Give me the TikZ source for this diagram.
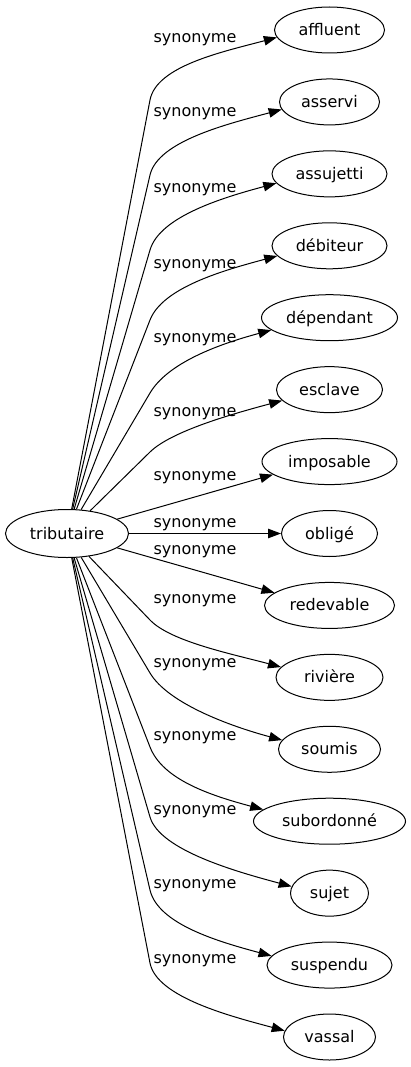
\documentclass[tikz,border=0pt]{standalone}
\usepackage{fontspec}
\setmainfont{DejaVu Sans}
\usetikzlibrary{shapes.geometric,arrows.meta,calc}
\begin{document}
\begin{tikzpicture}[x=1pt,y=-1pt,
  word/.style={ellipse,draw,line width=1pt,inner sep=0pt,minimum height=46pt,
    font=\fontsize{16}{19}\selectfont,text height=12pt,text depth=1pt},
  lab/.style={anchor=base,inner sep=0pt,font=\fontsize{16}{19}\selectfont},
  conn/.style={draw,line width=1pt,-{Triangle[length=13pt,width=9.5pt]}}]
\useasboundingbox (0,0) rectangle (411,1067);
% nodes
\node[word,minimum width=123pt,minimum height=48pt] (t) at (67,533.5) {tributaire};
\node[word,minimum width=110pt] (affluent)   at (329.5,30)     {affluent};
\node[word,minimum width=100pt] (asservi)    at (329.5,101.93) {asservi};
\node[word,minimum width=115pt] (assujetti)  at (329.5,173.86) {assujetti};
\node[word,minimum width=115pt] (debiteur)   at (329.5,245.79) {débiteur};
\node[word,minimum width=136pt] (dependant)  at (329.5,317.71) {dépendant};
\node[word,minimum width=106pt] (esclave)    at (329.5,389.64) {esclave};
\node[word,minimum width=135pt] (imposable)  at (329.5,461.57) {imposable};
\node[word,minimum width=96pt]  (oblige)     at (329.5,533.5)  {obligé};
\node[word,minimum width=130pt] (redevable)  at (329.5,605.43) {redevable};
\node[word,minimum width=107pt] (riviere)    at (329.5,677.36) {rivière};
\node[word,minimum width=102pt] (soumis)     at (329.5,749.29) {soumis};
\node[word,minimum width=152pt] (subordonne) at (329.5,821.21) {subordonné};
\node[word,minimum width=78pt]  (sujet)      at (329.5,893.14) {sujet};
\node[word,minimum width=125pt] (suspendu)   at (329.5,965.07) {suspendu};
\node[word,minimum width=92pt]  (vassal)     at (329.5,1037)   {vassal};
% labels
\node[lab] (l1)  at (195,42.5)  {synonyme};
\node[lab] (l2)  at (195,117)   {synonyme};
\node[lab] (l3)  at (195,192.5) {synonyme};
\node[lab] (l4)  at (195,268)   {synonyme};
\node[lab] (l5)  at (195,342.5) {synonyme};
\node[lab] (l6)  at (195,416)   {synonyme};
\node[lab] (l7)  at (195,480)   {synonyme};
\node[lab] (l8)  at (195,527.5) {synonyme};
\node[lab] (l9)  at (195,554.5) {synonyme};
\node[lab] (l10) at (195,603)   {synonyme};
\node[lab] (l11) at (195,667)   {synonyme};
\node[lab] (l12) at (195,740)   {synonyme};
\node[lab] (l13) at (195,814)   {synonyme};
\node[lab] (l14) at (195,888)   {synonyme};
\node[lab] (l15) at (195,963)   {synonyme};
% knee points
\coordinate (k1)  at (150,100);
\coordinate (k2)  at (150,175);
\coordinate (k3)  at (150,250);
\coordinate (k4)  at (150,320);
\coordinate (k5)  at (150,393);
\coordinate (k6)  at (150,452);
\coordinate (k10) at (150,620);
\coordinate (k11) at (150,673);
\coordinate (k12) at (150,747);
\coordinate (k13) at (150,817);
\coordinate (k14) at (150,890);
\coordinate (k15) at (150,963);
% upper edges
\draw[conn] (t) -- (k1) .. controls ($(k1)!-35pt!(t)$) and ($(affluent.188)+(195:55pt)$) .. (affluent.188);
\draw[conn] (t) -- (k2) .. controls ($(k2)!-35pt!(t)$) and ($(asservi.189)+(195:55pt)$) .. (asservi.189);
\draw[conn] (t) -- (k3) .. controls ($(k3)!-35pt!(t)$) and ($(assujetti.190)+(195:55pt)$) .. (assujetti.190);
\draw[conn] (t) -- (k4) .. controls ($(k4)!-35pt!(t)$) and ($(debiteur.191)+(195:55pt)$) .. (debiteur.191);
\draw[conn] (t) -- (k5) .. controls ($(k5)!-35pt!(t)$) and ($(dependant.192)+(195:55pt)$) .. (dependant.192);
\draw[conn] (t) -- (k6) .. controls ($(k6)!-30pt!(t)$) and ($(esclave.193)+(195:50pt)$) .. (esclave.193);
% straight edges
\draw[conn] (t) -- (imposable.193);
\draw[conn] (t) -- (oblige);
\draw[conn] (t) -- (redevable.167);
% lower edges
\draw[conn] (t) -- (k10) .. controls ($(k10)!-30pt!(t)$) and ($(riviere.168)+(165:50pt)$) .. (riviere.168);
\draw[conn] (t) -- (k11) .. controls ($(k11)!-35pt!(t)$) and ($(soumis.169)+(165:55pt)$) .. (soumis.169);
\draw[conn] (t) -- (k12) .. controls ($(k12)!-35pt!(t)$) and ($(subordonne.170)+(165:55pt)$) .. (subordonne.170);
\draw[conn] (t) -- (k13) .. controls ($(k13)!-35pt!(t)$) and ($(sujet.170)+(165:55pt)$) .. (sujet.170);
\draw[conn] (t) -- (k14) .. controls ($(k14)!-35pt!(t)$) and ($(suspendu.171)+(165:55pt)$) .. (suspendu.171);
\draw[conn] (t) -- (k15) .. controls ($(k15)!-35pt!(t)$) and ($(vassal.172)+(165:55pt)$) .. (vassal.172);
\end{tikzpicture}
\end{document}
